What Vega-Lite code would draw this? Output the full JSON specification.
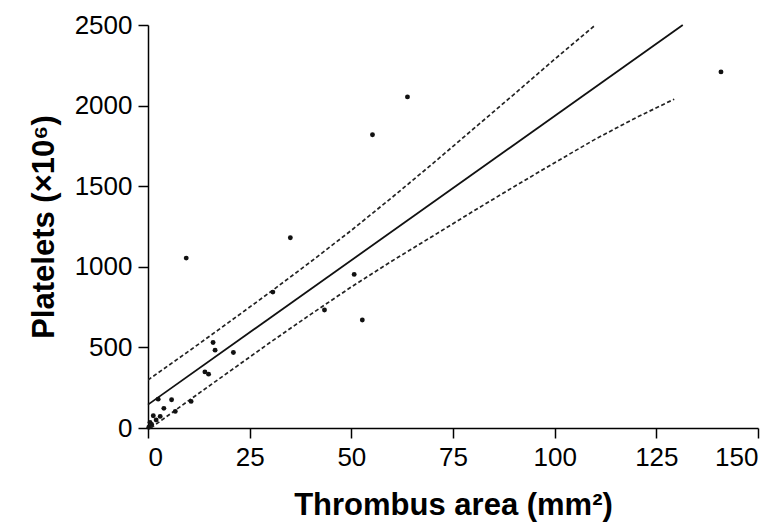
{
  "$schema": "https://vega.github.io/schema/vega-lite/v6.json",
  "width": 610,
  "height": 403,
  "autosize": {"type": "none"},
  "padding": {"left": 148, "top": 25, "right": 26, "bottom": 102},
  "background": "white",
  "config": {
    "view": {"stroke": null},
    "font": "Liberation Sans",
    "axis": {
      "domainColor": "black",
      "domainWidth": 1.5,
      "tickColor": "black",
      "tickWidth": 1.5,
      "tickSize": 10,
      "grid": false,
      "labelFont": "Liberation Sans",
      "labelFontSize": 26,
      "labelColor": "black",
      "labelPadding": 6,
      "format": "d",
      "titleFont": "Liberation Sans",
      "titleFontSize": 31,
      "titleFontWeight": "bold",
      "titleColor": "black"
    }
  },
  "datasets": {
    "pts": [
      {"x": 0.2, "y": 5}, {"x": 0.5, "y": 35}, {"x": 0.9, "y": 22}, {"x": 1.3, "y": 76},
      {"x": 2.0, "y": 50}, {"x": 3.0, "y": 72}, {"x": 2.5, "y": 179}, {"x": 5.8, "y": 175},
      {"x": 3.9, "y": 122}, {"x": 6.7, "y": 103}, {"x": 10.6, "y": 165}, {"x": 14.0, "y": 348},
      {"x": 14.9, "y": 334}, {"x": 16.0, "y": 530}, {"x": 16.5, "y": 483}, {"x": 21.0, "y": 468},
      {"x": 30.7, "y": 843}, {"x": 35.0, "y": 1180}, {"x": 9.4, "y": 1054}, {"x": 43.4, "y": 732},
      {"x": 50.7, "y": 953}, {"x": 52.7, "y": 670}, {"x": 55.2, "y": 1819}, {"x": 63.8, "y": 2054},
      {"x": 140.9, "y": 2209}
    ],
    "fit": [
      {"x": 0, "y": 145}, {"x": 131.5, "y": 2500}
    ],
    "ci": [
      {"band": "upper", "x": 0, "y": 298}, {"band": "upper", "x": 10, "y": 476},
      {"band": "upper", "x": 20, "y": 658}, {"band": "upper", "x": 30, "y": 842},
      {"band": "upper", "x": 40, "y": 1031}, {"band": "upper", "x": 50, "y": 1226},
      {"band": "upper", "x": 60, "y": 1430}, {"band": "upper", "x": 70, "y": 1640},
      {"band": "upper", "x": 80, "y": 1855}, {"band": "upper", "x": 90, "y": 2070},
      {"band": "upper", "x": 100, "y": 2288}, {"band": "upper", "x": 110, "y": 2500},
      {"band": "lower", "x": 0.7, "y": 0}, {"band": "lower", "x": 10, "y": 170},
      {"band": "lower", "x": 20, "y": 350}, {"band": "lower", "x": 30, "y": 530},
      {"band": "lower", "x": 40, "y": 705}, {"band": "lower", "x": 50, "y": 875},
      {"band": "lower", "x": 60, "y": 1036}, {"band": "lower", "x": 70, "y": 1190},
      {"band": "lower", "x": 80, "y": 1345}, {"band": "lower", "x": 90, "y": 1497},
      {"band": "lower", "x": 100, "y": 1646}, {"band": "lower", "x": 110, "y": 1792},
      {"band": "lower", "x": 120, "y": 1925}, {"band": "lower", "x": 129.4, "y": 2040}
    ]
  },
  "layer": [
    {
      "data": {"name": "ci"},
      "mark": {"type": "line", "color": "#222", "strokeWidth": 1.7, "strokeDash": [4, 2.5], "clip": true},
      "encoding": {
        "x": {"field": "x", "type": "quantitative",
              "scale": {"domain": [0, 150], "nice": false},
              "axis": {"values": [0, 25, 50, 75, 100, 125, 150], "title": "Thrombus area (mm²)", "titlePadding": 20}},
        "y": {"field": "y", "type": "quantitative",
              "scale": {"domain": [0, 2500], "nice": false},
              "axis": {"values": [0, 500, 1000, 1500, 2000, 2500], "title": "Platelets (×10⁶)", "titlePadding": 14}},
        "detail": {"field": "band"},
        "order": {"field": "x", "type": "quantitative"}
      }
    },
    {
      "data": {"name": "fit"},
      "mark": {"type": "line", "color": "#111", "strokeWidth": 1.8},
      "encoding": {
        "x": {"field": "x", "type": "quantitative"},
        "y": {"field": "y", "type": "quantitative"}
      }
    },
    {
      "data": {"name": "pts"},
      "mark": {"type": "circle", "color": "#111", "opacity": 1, "size": 24},
      "encoding": {
        "x": {"field": "x", "type": "quantitative"},
        "y": {"field": "y", "type": "quantitative"}
      }
    }
  ]
}
